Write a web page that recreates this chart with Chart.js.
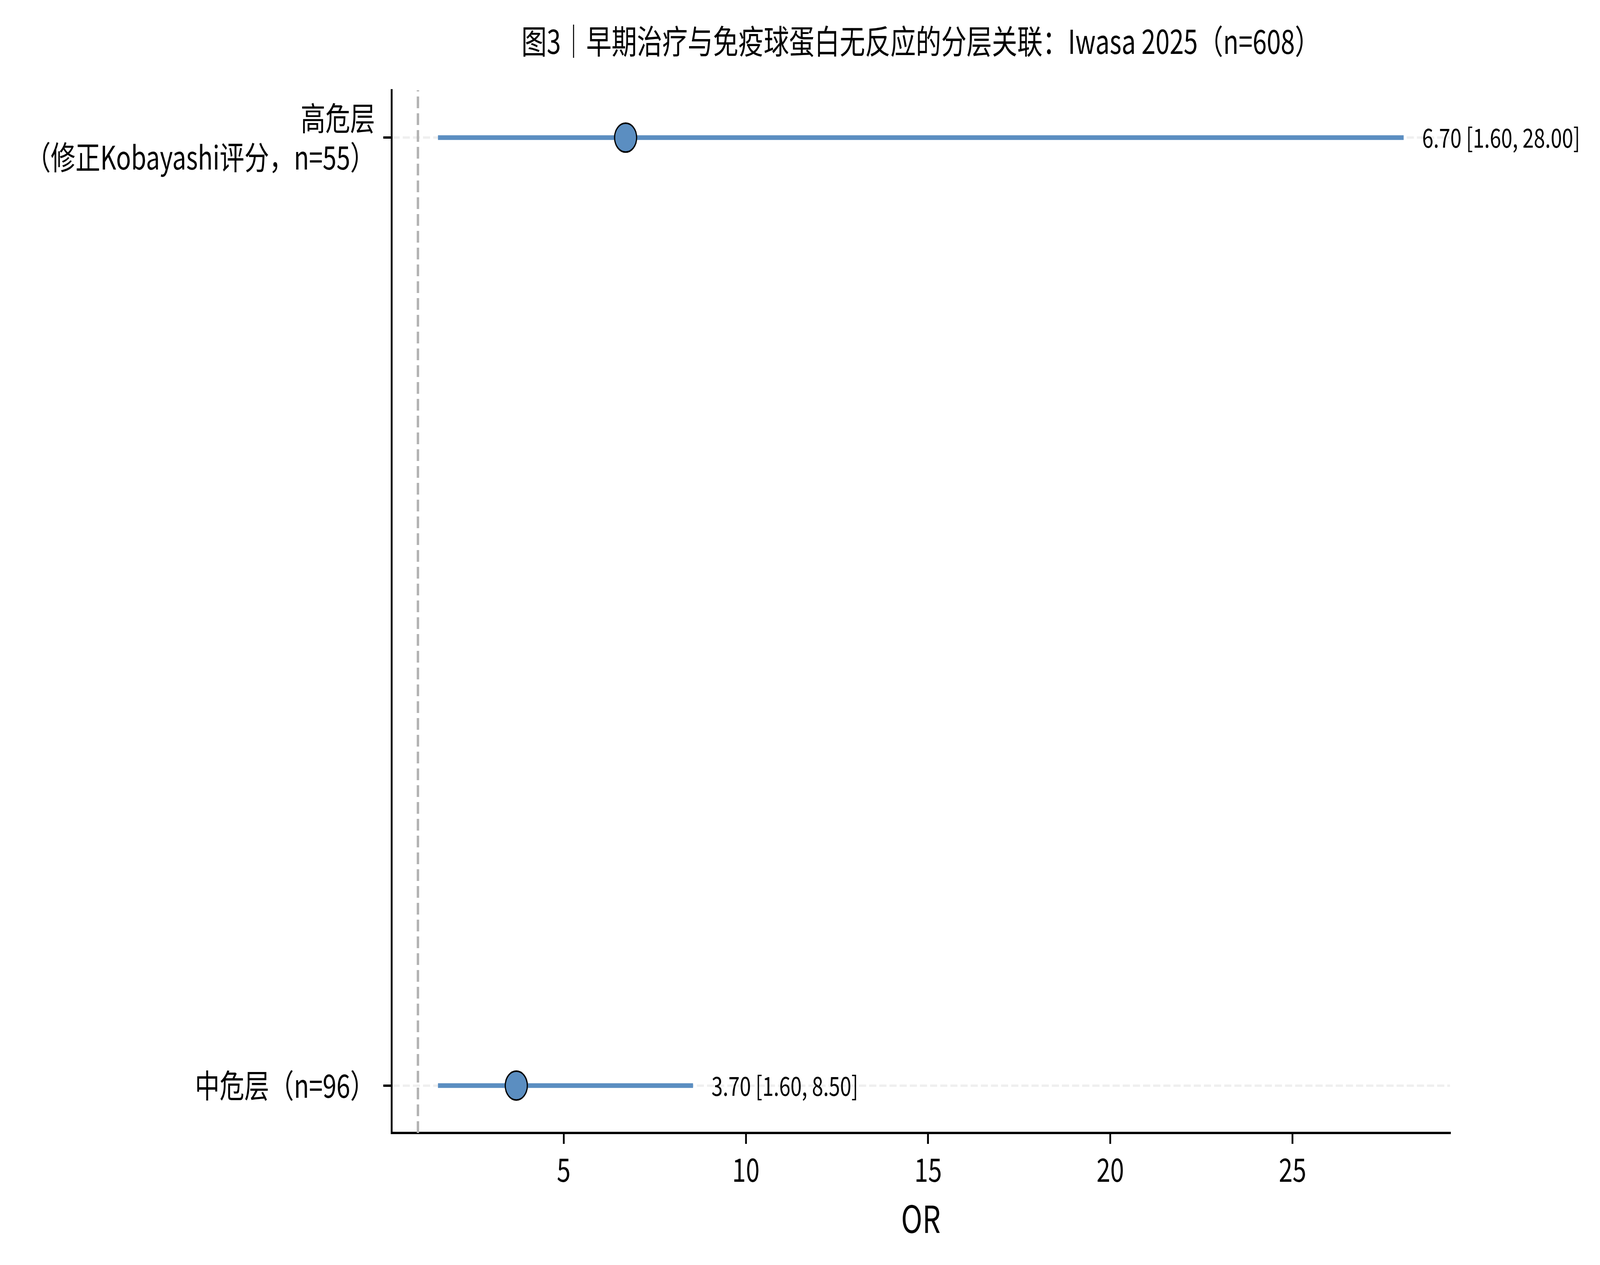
<!DOCTYPE html>
<html>
<head>
<meta charset="utf-8">
<script src="https://cdn.jsdelivr.net/npm/chart.js@4.4.1/dist/chart.umd.min.js"></script>
<style>
  html, body { margin: 0; padding: 0; background: #fff; overflow: hidden; }
  /* 画布按 5364x3238 绘制，再铺满窗口 */
  #forest { display: block; width: 100vw !important; height: 100vh !important; }
</style>
</head>
<body>
<canvas id="forest" width="5364" height="3238"></canvas>
<script>
// 数据（自下而上）
const categories = ['中危层（n=96）', '高危层\n（修正Kobayashi评分，n=55）'];
const orValues = [3.7, 6.7];
const ciLow = [1.6, 1.6];
const ciHigh = [8.5, 28.0];
const xTicks = [5, 10, 15, 20, 25];
const nullValue = 1;
const titleText = '图3｜早期治疗与免疫球蛋白无反应的分层关联：Iwasa 2025（n=608）';
const xTitle = 'OR';

const blue = '#5b8ec1';
const fontFamily = '"Noto Sans CJK SC", "Noto Sans", sans-serif';
Chart.defaults.font.family = fontFamily;
Chart.defaults.color = '#000';

const Y_MIN = -0.05, Y_MAX = 1.05;

// 误差线
const ciSets = categories.map((c, i) => ({
    data: [{x: ciLow[i], y: i}, {x: ciHigh[i], y: i}],
    showLine: true,
    borderColor: blue,
    borderWidth: 12,
    borderCapStyle: 'square',
    pointRadius: 0,
    order: 1
}));

// 标题 + 数值标注
const textPlugin = {
    id: 'textPlugin',
    afterDatasetsDraw(chart) {
        const {ctx, chartArea, scales: {x, y}} = chart;
        ctx.save();
        ctx.fillStyle = '#000';
        ctx.textBaseline = 'middle';
        ctx.textAlign = 'left';
        ctx.font = '68px ' + fontFamily;
        categories.forEach((c, i) => {
            const txt = orValues[i].toFixed(2) + ' [' + ciLow[i].toFixed(2) + ', ' + ciHigh[i].toFixed(2) + ']';
            ctx.fillText(txt, x.getPixelForValue(ciHigh[i]) + 68, y.getPixelForValue(i));
        });
        ctx.textAlign = 'center';
        ctx.font = '85px ' + fontFamily;
        ctx.fillText(titleText, (chartArea.left + chartArea.right) / 2, 106);
        ctx.restore();
    }
};

new Chart(document.getElementById('forest'), {
    type: 'scatter',
    data: {
        datasets: [
            {
                data: [{x: nullValue, y: Y_MIN}, {x: nullValue, y: Y_MAX}],
                showLine: true,
                borderColor: '#b3b3b3',
                borderWidth: 8,
                borderDash: [30, 13],
                pointRadius: 0,
                order: 2
            },
            ...ciSets,
            {
                data: orValues.map((v, i) => ({x: v, y: i})),
                backgroundColor: blue,
                borderColor: '#000',
                borderWidth: 4,
                pointRadius: 37,
                order: 0
            }
        ]
    },
    options: {
        responsive: false,
        animation: false,
        devicePixelRatio: 1,
        layout: { padding: { top: 231, right: 503, left: 0, bottom: 0 } },
        plugins: {
            legend: { display: false },
            tooltip: { enabled: false },
            title: { display: false }
        },
        scales: {
            x: {
                type: 'linear',
                min: 0.28,
                max: 29.32,
                afterBuildTicks: sc => { sc.ticks = xTicks.map(v => ({value: v})); },
                afterFit: sc => { sc.height = 338; },
                ticks: { font: { size: 83 }, padding: 16, maxRotation: 0 },
                grid: { drawOnChartArea: false, tickColor: '#000', tickLength: 28, lineWidth: 6 },
                border: { color: '#000', width: 6 },
                title: { display: true, text: xTitle, font: { size: 96 }, padding: { top: 0, bottom: 61 } }
            },
            y: {
                type: 'linear',
                min: Y_MIN,
                max: Y_MAX,
                afterBuildTicks: sc => { sc.ticks = categories.map((c, i) => ({value: i})); },
                afterFit: sc => { sc.width = 1313; },
                ticks: {
                    font: { size: 83 },
                    padding: 28,
                    callback: v => categories[v].split('\n')
                },
                grid: { color: '#efefef', lineWidth: 6, tickColor: '#000', tickLength: 28, tickWidth: 6 },
                border: { color: '#000', width: 6, dash: [24, 10] }
            }
        }
    },
    plugins: [textPlugin]
});
</script>
</body>
</html>
